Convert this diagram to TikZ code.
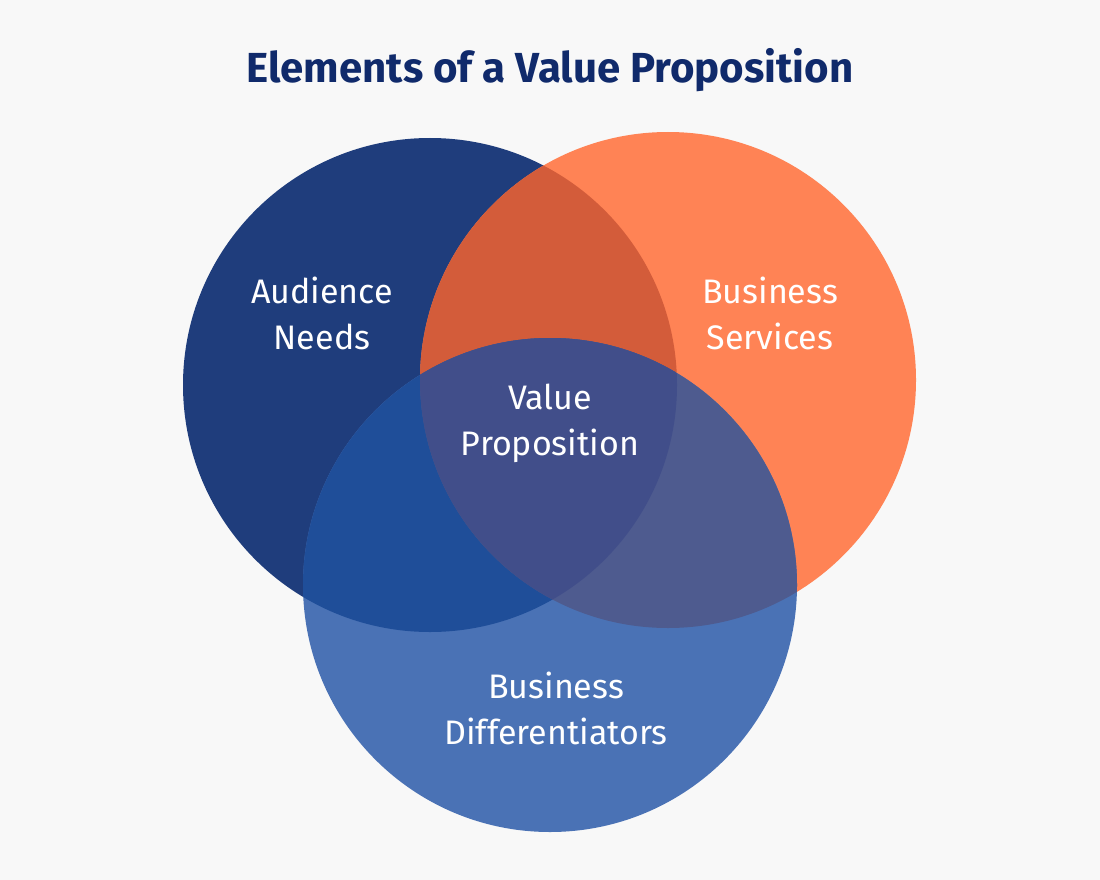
\documentclass[tikz,border=0pt]{standalone}
\usepackage{fontspec}
\setmainfont{Fira Sans}
\definecolor{bg}{HTML}{F8F8F8}
\definecolor{navy}{HTML}{1F3D7C}
\definecolor{orng}{HTML}{FF8355}
\definecolor{lblue}{HTML}{4A72B5}
\definecolor{lr}{HTML}{D35C3A}
\definecolor{lb}{HTML}{1F4E99}
\definecolor{rb}{HTML}{4E5B8F}
\definecolor{ctr}{HTML}{414E8A}
\definecolor{ttl}{HTML}{102A6B}
\begin{document}
\begin{tikzpicture}[x=1pt,y=-1pt,
  lbl/.style={text=white,font=\fontsize{34}{46}\selectfont,align=center}]
\fill[bg] (0,0) rectangle (1100,880);
\useasboundingbox (0,0) rectangle (1100,880);
\def\L{(430,385) circle (247)}
\def\R{(668,380) circle (248)}
\def\B{(550,585) circle (247)}
\fill[navy] \L;
\fill[orng] \R;
\fill[lblue] \B;
\begin{scope}\clip \L; \fill[lr] \R; \fill[lb] \B;\end{scope}
\begin{scope}\clip \R; \fill[rb] \B;\end{scope}
\begin{scope}\clip \L; \clip \R; \fill[ctr] \B;\end{scope}
\node[text=ttl,font=\fontsize{42}{50}\bfseries\selectfont] (t) at (550,70) {Elements of a Value Proposition};
\node[lbl] (a) at (322,313) {Audience\\Needs};
\node[lbl] (s) at (770,313) {Business\\Services};
\node[lbl] (v) at (550,423) {Value\\Proposition};
\node[lbl] (d) at (556,708) {Business\\Differentiators};
\end{tikzpicture}
\end{document}
